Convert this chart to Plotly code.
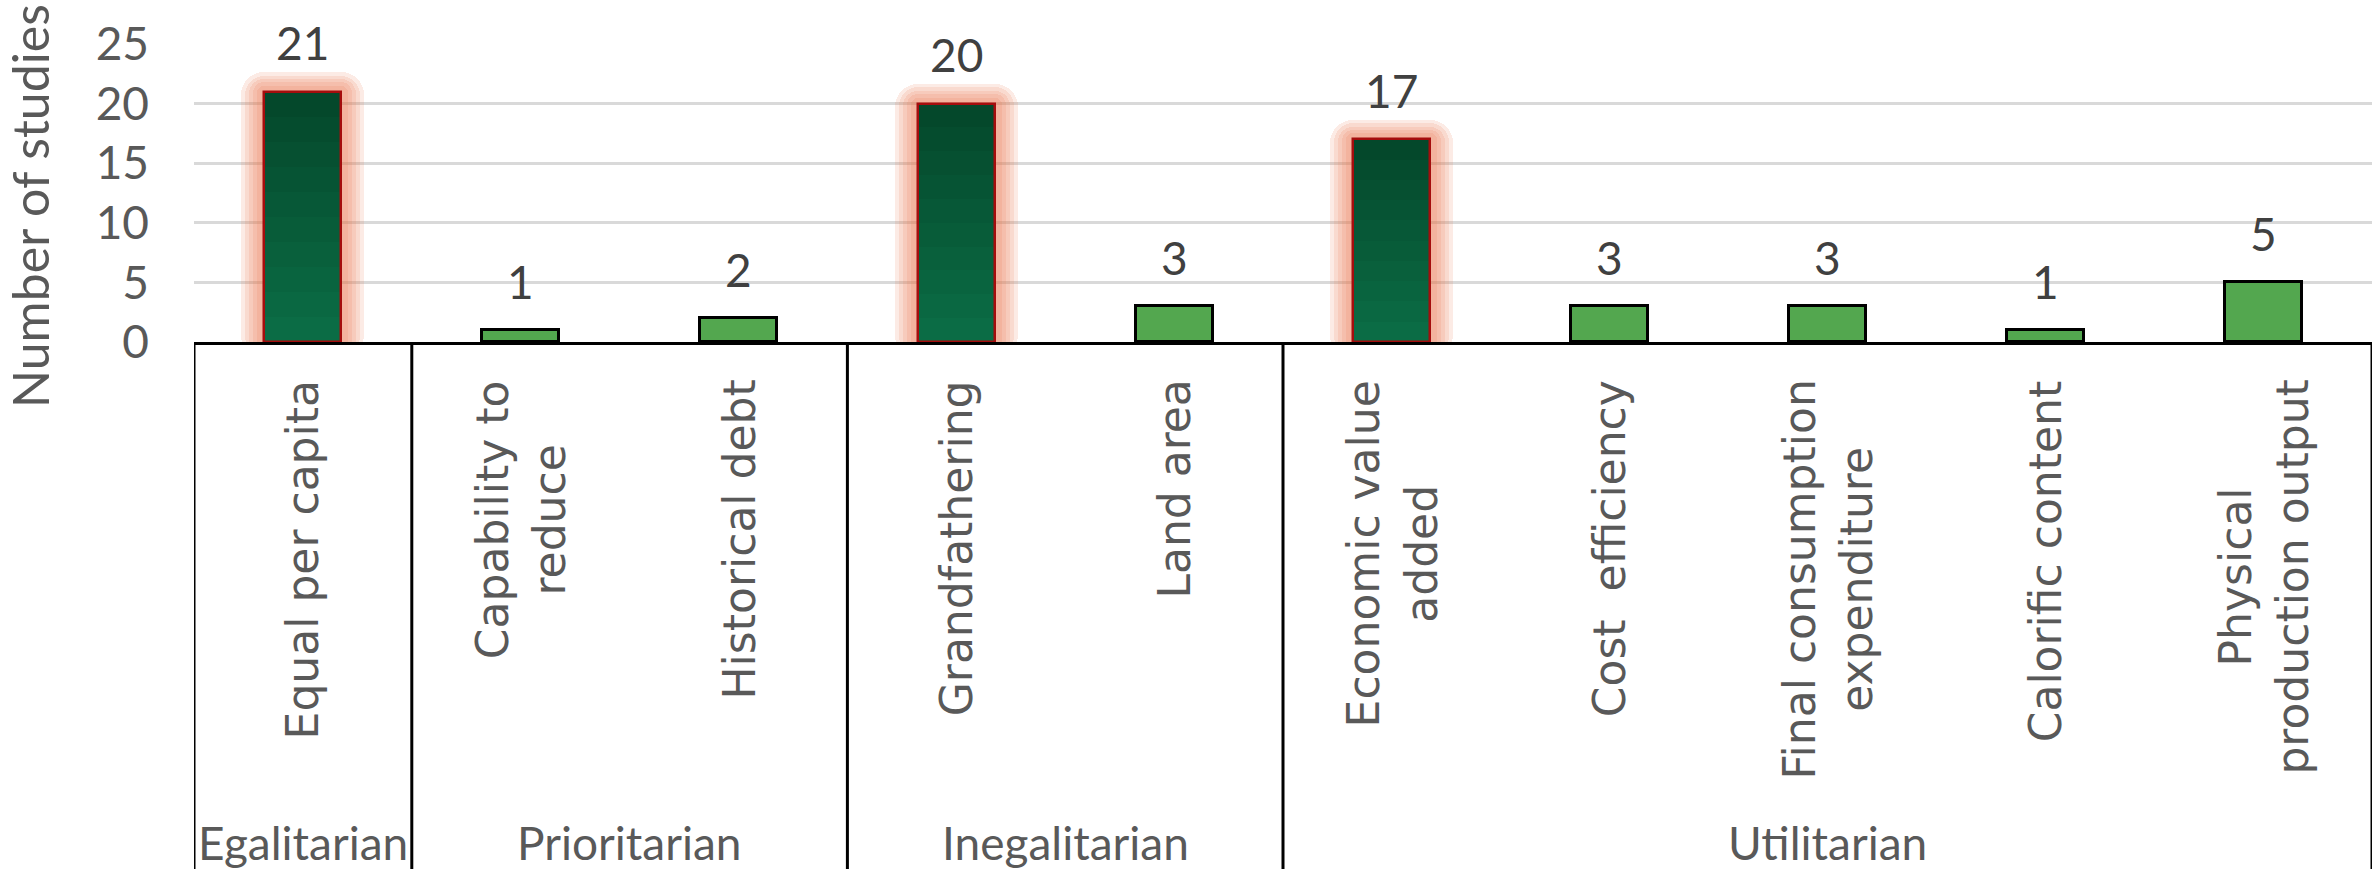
import plotly.graph_objects as go

# ---------------- data ----------------
categories = [
    "Equal per capita", "Capability to reduce", "Historical debt", "Grandfathering",
    "Land area", "Economic value added", "Cost efficiency",
    "Final consumption expenditure", "Calorific content", "Physical production output",
]
category_labels = [
    "Equal per capita", "Capability to<br>reduce", "Historical debt", "Grandfathering",
    "Land area", "Economic value<br>added", "Cost  efficiency",
    "Final consumption<br>expenditure", "Calorific content", "Physical<br>production output",
]
groups = [
    "Egalitarian", "Prioritarian", "Prioritarian", "Inegalitarian", "Inegalitarian",
    "Utilitarian", "Utilitarian", "Utilitarian", "Utilitarian", "Utilitarian",
]
studies = [21, 1, 2, 20, 3, 17, 3, 3, 1, 5]
highlighted = ["Equal per capita", "Grandfathering", "Economic value added"]
y_ticks = [0, 5, 10, 15, 20, 25]
y_title = "Number of studies"

# ---------------- layout geometry ----------------
W, H = 2376, 869
ML, MR, MT, MB = 194, 4, 44, 527
plot_w = W - ML - MR
plot_h = H - MT - MB
y_max = 25
px_per_unit = plot_h / y_max
n = len(categories)
cat_px = plot_w / n
bar_px = 77
bar_w = bar_px / cat_px

TICK_FONT = "Lato"
CAT_FONT = "DejaVu Sans"
GREY = "#595959"
DARK = "#404040"

fig = go.Figure()

# soft glow behind highlighted bars
for pad in [23, 19, 15, 11, 7]:
    tops, bases = [], []
    for c, v in zip(categories, studies):
        if c in highlighted:
            pb = pad * 0.7 / px_per_unit
            pt = pad * 0.85 / px_per_unit
            tops.append(v + pt + pb)
            bases.append(-pb)
        else:
            tops.append(None)
            bases.append(0)
    fig.add_trace(go.Bar(
        x=categories, y=tops, base=bases,
        width=(bar_px + 2 * pad) / cat_px,
        marker=dict(color="rgba(236,118,78,0.15)", line=dict(width=0), cornerradius=pad),
        cliponaxis=False, hoverinfo="skip", showlegend=False,
    ))

# gradient bands for highlighted bars (dark at top, lighter at bottom)
def mix(c1, c2, t):
    return "rgb(%d,%d,%d)" % tuple(round(a + (b - a) * t) for a, b in zip(c1, c2))

bottom_col, top_col = (11, 110, 70), (4, 70, 42)
nb = 10
for k in range(nb):
    ys, bs = [], []
    for c, v in zip(categories, studies):
        if c in highlighted:
            ys.append(v / nb)
            bs.append(v * k / nb)
        else:
            ys.append(None)
            bs.append(0)
    fig.add_trace(go.Bar(
        x=categories, y=ys, base=bs, width=bar_w,
        marker=dict(color=mix(bottom_col, top_col, (k + 0.5) / nb), line=dict(width=0)),
        hoverinfo="skip", showlegend=False,
    ))

# main bars (outline on highlighted, full fill on others)
colors = ["rgba(0,0,0,0)" if c in highlighted else "#53a74f" for c in categories]
lines = ["#a50d0d" if c in highlighted else "#000000" for c in categories]
lwidths = [2.5 if c in highlighted else 3 for c in categories]
fig.add_trace(go.Bar(
    x=categories, y=studies, width=bar_w,
    marker=dict(color=colors, line=dict(color=lines, width=lwidths)),
    showlegend=False,
))

annotations = []
# value labels
for c, v in zip(categories, studies):
    annotations.append(dict(
        x=c, y=v, xref="x", yref="y", text=str(v), showarrow=False,
        yanchor="middle", xanchor="center", yshift=49,
        font=dict(family=TICK_FONT, size=46, color=DARK),
    ))

# category labels (rotated)
cat_top = -(378 - (H - MB)) / plot_h
for c, lab in zip(categories, category_labels):
    annotations.append(dict(
        x=c, y=cat_top, xref="x", yref="paper", text=lab, showarrow=False,
        textangle=-90, xanchor="center", yanchor="top", align="center",
        font=dict(family=CAT_FONT, size=44, color=GREY),
    ))

# group labels and separators
group_names = []
for g in groups:
    if g not in group_names:
        group_names.append(g)
grp_y = -(842 - (H - MB)) / plot_h
bottom = -MB / plot_h
shapes = []
for g in group_names:
    idx = [i for i, gg in enumerate(groups) if gg == g]
    annotations.append(dict(
        x=sum(idx) / len(idx), y=grp_y, xref="x", yref="paper", text=g,
        showarrow=False, xanchor="center", yanchor="middle",
        font=dict(family=TICK_FONT, size=46, color=GREY),
    ))
    shapes.append(dict(type="line", xref="x", yref="paper", x0=idx[0] - 0.5, x1=idx[0] - 0.5,
                       y0=0, y1=bottom, line=dict(color="black", width=3)))
shapes.append(dict(type="line", xref="x", yref="paper", x0=n - 0.5, x1=n - 0.5,
                   y0=0, y1=bottom, line=dict(color="black", width=3)))

# y-axis title
annotations.append(dict(
    x=-(ML - 30) / plot_w, y=(H - MB - 206) / plot_h, xref="paper", yref="paper",
    text=y_title, showarrow=False, textangle=-90, xanchor="center", yanchor="middle",
    font=dict(family=TICK_FONT, size=50, color=GREY),
))

fig.update_layout(
    width=W, height=H,
    margin=dict(l=ML, r=MR, t=MT, b=MB, pad=0),
    paper_bgcolor="white", plot_bgcolor="white",
    barmode="overlay", bargap=0,
    annotations=annotations, shapes=shapes,
    xaxis=dict(type="category", range=[-0.5, n - 0.5], showticklabels=False,
               showgrid=False, zeroline=False, showline=True, linecolor="black",
               linewidth=3, ticks=""),
    yaxis=dict(range=[0, y_max], tickvals=y_ticks, showgrid=True, gridcolor="#d9d9d9",
               gridwidth=2.5, zeroline=False, showline=False, ticks="",
               ticklabelstandoff=44,
               tickfont=dict(family=TICK_FONT, size=46, color=GREY)),
)

fig.write_html("out.html")
